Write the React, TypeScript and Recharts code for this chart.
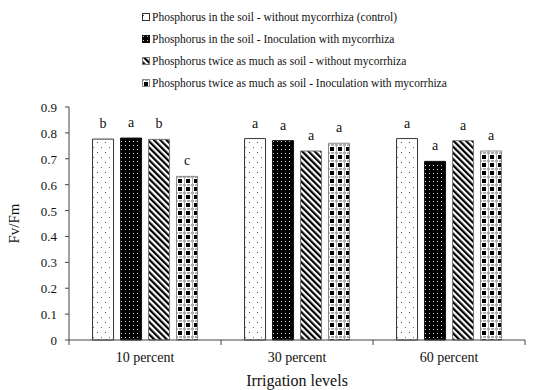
import { Bar, BarChart, LabelList, XAxis, YAxis } from "recharts";

const categories = ["10 percent", "30 percent", "60 percent"];
const seriesNames = [
  "Phosphorus in the soil - without mycorrhiza (control)",
  "Phosphorus in the soil - Inoculation with mycorrhiza",
  "Phosphorus twice as much as soil - without mycorrhiza",
  "Phosphorus twice as much as soil - Inoculation with mycorrhiza",
];
const soilControl = [0.776, 0.778, 0.778];
const soilMyco = [0.78, 0.77, 0.69];
const twiceControl = [0.775, 0.73, 0.77];
const twiceMyco = [0.632, 0.76, 0.73];
const letters = [
  ["b", "a", "a"],
  ["a", "a", "a"],
  ["b", "a", "a"],
  ["c", "a", "a"],
];
const yTicks = [0, 0.1, 0.2, 0.3, 0.4, 0.5, 0.6, 0.7, 0.8, 0.9];

const keys = ["s1", "s2", "s3", "s4"];
const data = categories.map((c, i) => ({
  name: c,
  s1: soilControl[i],
  s2: soilMyco[i],
  s3: twiceControl[i],
  s4: twiceMyco[i],
}));

const fills = ["url(#pDots)", "url(#pBlack)", "url(#pStripe)", "url(#pCheck)"];
const strokes = ["#333", "#111", "#777", "#888"];
const font = "'Liberation Serif', serif";
const serif = { fontFamily: font };

const W = 539;
const H = 390;
const margin = { top: 107, right: 14, bottom: 0, left: 0 };
const yWidth = 69;
const band = (W - yWidth - margin.right) / categories.length;

function XTick(props: any) {
  const { x, y, payload, index } = props;
  const last = index === categories.length - 1;
  return (
    <g>
      <line x1={x - band / 2} y1={y} x2={x - band / 2} y2={y + 5} stroke="#444" />
      {last && <line x1={x + band / 2} y1={y} x2={x + band / 2} y2={y + 5} stroke="#444" />}
      <text x={x} y={y + 22} textAnchor="middle" fontSize={14} style={serif} fill="#111">
        {payload.value}
      </text>
    </g>
  );
}

function YTick(props: any) {
  const { x, y, payload } = props;
  return (
    <text x={x} y={y + 5} textAnchor="end" fontSize={13} style={serif} fill="#111">
      {payload.value === 0 ? "0" : String(payload.value)}
    </text>
  );
}

function LegendBox() {
  return (
    <div
      style={{
        position: "absolute",
        left: 142,
        top: 6,
        fontFamily: font,
        fontSize: 11.5,
        color: "#111",
        lineHeight: "22px",
      }}
    >
      {seriesNames.map((n, i) => (
        <div key={n} style={{ display: "flex", alignItems: "center", whiteSpace: "nowrap" }}>
          <svg width={8} height={8} style={{ marginRight: 2 }}>
            <rect x={0.5} y={0.5} width={7} height={7} fill={fills[i]} stroke={strokes[i]} />
          </svg>
          <span style={serif}>{n}</span>
        </div>
      ))}
    </div>
  );
}

export default function App() {
  return (
    <div style={{ position: "absolute", left: 0, top: 0, width: W, height: H, background: "#fff", fontFamily: font }}>
      <BarChart width={W} height={H} data={data} margin={margin} barCategoryGap="15.5%" barGap={7} style={serif}>
        <defs>
          <pattern id="pDots" width={8} height={10} patternUnits="userSpaceOnUse">
            <rect width={8} height={10} fill="#fff" />
            <rect x={1} y={2} width={1} height={1} fill="#444" />
            <rect x={5} y={7} width={1} height={1} fill="#777" />
          </pattern>
          <pattern id="pBlack" width={4} height={4} patternUnits="userSpaceOnUse">
            <rect width={4} height={4} fill="#000" />
            <rect x={1} y={1} width={1} height={1} fill="#ddd" />
          </pattern>
          <pattern id="pStripe" width={4.4} height={4.4} patternUnits="userSpaceOnUse" patternTransform="rotate(-45)">
            <rect width={4.4} height={4.4} fill="#fff" />
            <rect width={2.2} height={4.4} fill="#000" />
          </pattern>
          <pattern id="pCheck" width={8} height={8} patternUnits="userSpaceOnUse">
            <rect width={8} height={8} fill="#fff" />
            <rect x={0} y={0} width={8} height={2} fill="#aaa" />
            <rect x={0} y={0} width={1} height={8} fill="#aaa" />
            <rect x={2} y={3} width={4} height={4} fill="#000" />
            <rect x={6} y={0} width={1} height={2} fill="#fff" />
            <rect x={2} y={0} width={1} height={2} fill="#fff" />
          </pattern>
        </defs>
        <XAxis
          dataKey="name"
          height={50}
          tickLine={false}
          tickSize={0}
          tickMargin={0}
          stroke="#444"
          tick={<XTick />}
          interval={0}
          label={{
            value: "Irrigation levels",
            position: "insideBottom",
            offset: 4,
            fontSize: 16,
            fontFamily: font,
            fill: "#111",
          }}
        />
        <YAxis
          width={yWidth}
          domain={[0, 0.9]}
          ticks={yTicks}
          interval={0}
          tickSize={4}
          tickMargin={8}
          stroke="#444"
          tick={<YTick />}
          label={{
            value: "Fv/Fm",
            angle: -90,
            position: "insideLeft",
            offset: 14,
            fontSize: 15,
            fontFamily: font,
            fill: "#111",
            style: { textAnchor: "middle" },
          }}
        />
        {keys.map((k, i) => (
          <Bar key={k} dataKey={k} fill={fills[i]} stroke={strokes[i]} strokeWidth={1} isAnimationActive={false}>
            <LabelList
              dataKey={k}
              content={(p: any) => (
                <text
                  x={p.x + p.width / 2}
                  y={p.y - 11}
                  textAnchor="middle"
                  fontSize={14}
                  style={serif}
                  fill="#111"
                >
                  {letters[i][p.index]}
                </text>
              )}
            />
          </Bar>
        ))}
      </BarChart>
      <LegendBox />
    </div>
  );
}
